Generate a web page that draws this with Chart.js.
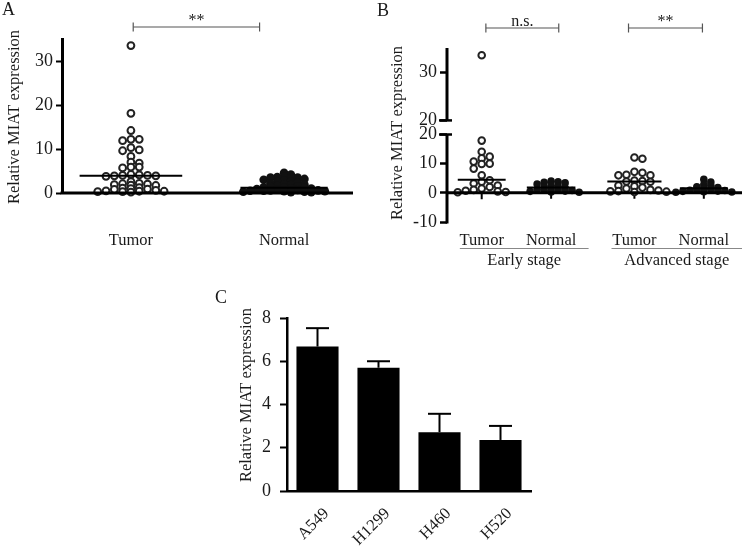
<!DOCTYPE html>
<html><head><meta charset="utf-8">
<script src="https://cdn.jsdelivr.net/npm/chart.js@4.4.1/dist/chart.umd.min.js"></script>
<style>
html,body{margin:0;padding:0;background:#fff;}
body{width:748px;height:546px;position:relative;overflow:hidden;}
canvas{position:absolute;display:block;}
#ca{left:0;top:0;}
#cb{left:370px;top:0;}
#cc{left:200px;top:280px;}
</style></head><body>
<canvas id="ca" width="370" height="278"></canvas>
<canvas id="cb" width="378" height="278"></canvas>
<canvas id="cc" width="340" height="266"></canvas>
<script>
// ---------------- DATA ----------------
// Panel A
const panelACategories = ['Tumor', 'Normal'];
const panelATumor = [33.5, 18.1, 14.2, 12.2, 11.9, 12.2, 10.3, 9.6, 9.8, 8.3, 7.0, 6.8, 5.9, 5.7, 5.9,
  4.1, 4.0, 4.0, 3.9, 4.2, 3.8, 3.9, 2.6, 2.2, 2.0, 1.9, 1.8, 2.1, 1.7, 1.2, 1.0, 0.9, 1.1, 0.8,
  0.6, 0.5, 0.4, 0.3, 0.3, 0.2, 0.4];
const panelANormal = [4.6, 4.2, 3.7, 3.6, 3.5, 3.5, 3.4, 3.2, 3.0, 2.8, 2.6, 2.5, 2.3, 2.2, 2.0, 1.9,
  1.8, 1.6, 1.5, 1.4, 1.3, 1.2, 1.1, 1.0, 1.0, 0.9, 0.8, 0.7, 0.6, 0.6, 0.5, 0.5, 0.4, 0.4, 0.3, 0.3, 0.2, 0.2];
const panelAMedians = [3.9, 1.2];
const panelAYTicks = [0, 10, 20, 30];
const panelASignif = '**';

// Panel B
const panelBCategories = ['Tumor', 'Normal', 'Tumor', 'Normal'];
const panelBStages = ['Early stage', 'Advanced stage'];
const panelBEarlyTumor = [33.5, 17.9, 14.1, 12.4, 11.8, 10.7, 10.0, 9.9, 8.3, 6.0, 4.3, 3.8, 3.2, 2.5, 2.0, 1.5, 1.0, 0.7, 0.5, 0.3, 0.2];
const panelBEarlyNormal = [4.0, 3.8, 3.6, 3.4, 3.0, 2.6, 2.2, 2.0, 1.7, 1.4, 1.2, 1.0, 0.8, 0.6, 0.5, 0.3, 0.2, 0.9];
const panelBAdvTumor = [12.1, 11.7, 7.2, 6.9, 6.2, 6.0, 6.0, 4.2, 4.0, 3.9, 3.8, 2.5, 2.2, 1.8, 1.5, 1.0, 0.8, 0.6, 0.4, 0.3, 0.5];
const panelBAdvNormal = [4.6, 3.7, 2.8, 2.5, 2.1, 1.8, 1.5, 1.2, 1.0, 0.8, 0.6, 0.5, 0.4, 0.3, 0.2, 0.9];
const panelBMedians = [4.5, 1.8, 3.9, 1.6];
const panelBLowerWhiskers = [-2.2, -2.0, -2.0, -2.0];
const panelBLowerTicks = [-10, 0, 10, 20];
const panelBUpperTicks = [20, 30];
const panelBSignif = ['n.s.', '**'];

// Panel C
const panelCCategories = ['A549', 'H1299', 'H460', 'H520'];
const panelCMeans = [6.68, 5.70, 2.72, 2.36];
const panelCErrors = [0.85, 0.30, 0.85, 0.65];
const panelCYTicks = [0, 2, 4, 6, 8];

// ---------------- STYLE / LAYOUT ----------------
const FONT = "'Liberation Serif', 'Times New Roman', serif";
const TXT = '#1a1a1a';
Chart.defaults.font.family = FONT;
Chart.defaults.font.size = 16.5;
Chart.defaults.color = TXT;
const YTITLE = 'Relative MIAT expression';
const TICKSIZE = 18;

// dot-plot layout: points at similar heights are spread side by side in rows
function rowsLayout(values, centerVal, xs, yPix, dx, yTol) {
  const cx = xs.getPixelForValue(centerVal);
  const placed = [];
  const out = new Array(values.length);
  const idx = values.map((v, i) => i).sort((a, b) => values[b] - values[a]);
  const step = dx / 2;
  for (const i of idx) {
    const py = yPix(values[i]);
    let k = 0, px;
    while (true) {
      const off = k === 0 ? 0 : (k % 2 === 1 ? 1 : -1) * Math.ceil(k / 2) * step;
      px = cx + off;
      if (placed.every(p => Math.abs(p.x - px) >= dx - 0.01 || Math.abs(p.y - py) >= yTol)) break;
      k++;
    }
    placed.push({ x: px, y: py });
    out[i] = xs.getValueForPixel(px);
  }
  return out;
}
function vText(ctx, text, x, y, font) {
  ctx.save();
  ctx.translate(x, y);
  ctx.rotate(-Math.PI / 2);
  ctx.font = font; ctx.fillStyle = TXT; ctx.textAlign = 'center'; ctx.textBaseline = 'middle';
  ctx.fillText(text, 0, 0);
  ctx.restore();
}
function hText(ctx, text, x, y, font, align) {
  ctx.save();
  ctx.font = font; ctx.fillStyle = TXT; ctx.textAlign = align || 'center'; ctx.textBaseline = 'alphabetic';
  ctx.fillText(text, x, y);
  ctx.restore();
}
function line(ctx, x1, y1, x2, y2, w, c) {
  ctx.save(); ctx.beginPath(); ctx.moveTo(x1, y1); ctx.lineTo(x2, y2);
  ctx.lineWidth = w; ctx.strokeStyle = c; ctx.stroke(); ctx.restore();
}
function bracket(ctx, x1, x2, y, label) {
  line(ctx, x1, y, x2, y, 1.2, '#555');
  line(ctx, x1, y - 4.5, x1, y + 4.5, 1.2, '#555');
  line(ctx, x2, y - 4.5, x2, y + 4.5, 1.2, '#555');
  hText(ctx, label, (x1 + x2) / 2, y - 2.5, '16px ' + FONT);
}
const F = '16.5px ' + FONT;
const common = {
  responsive: false, animation: false, events: [],
  plugins: { legend: { display: false }, tooltip: { enabled: false } }
};

// ---------------- PANEL A ----------------
const A_CENTERS = [0.9, 2.9];
const A_MED_HALF = [0.67, 0.57];
const A_BRACKET = [0.93, 2.58];
const overlayA = {
  id: 'overlayA',
  afterDraw(chart) {
    const { ctx, chartArea: a, scales: { x, y } } = chart;
    line(ctx, a.left - 1.5, y.getPixelForValue(0), a.right, y.getPixelForValue(0), 3, '#000');
    panelACategories.forEach((c, i) => hText(ctx, c, x.getPixelForValue(A_CENTERS[i]), a.bottom + 52, F));
    vText(ctx, YTITLE, 15, 117, F);
    hText(ctx, 'A', 2, 15, '18px ' + FONT, 'left');
    bracket(ctx, x.getPixelForValue(A_BRACKET[0]), x.getPixelForValue(A_BRACKET[1]), 27, panelASignif);
  }
};
const chartA = new Chart(document.getElementById('ca'), {
  type: 'scatter',
  data: { datasets: [
    { data: panelATumor.map(v => ({ x: A_CENTERS[0], y: v })), pointRadius: 3.4, pointBorderWidth: 2,
      pointBackgroundColor: '#fff', pointBorderColor: '#222', order: 2, clip: false },
    { data: panelANormal.map(v => ({ x: A_CENTERS[1], y: v })), pointRadius: 4.3, pointBorderWidth: 0,
      pointBackgroundColor: '#111', order: 2, clip: false },
    ...panelAMedians.map((m, i) => ({ data: [{ x: A_CENTERS[i] - A_MED_HALF[i], y: m }, { x: A_CENTERS[i] + A_MED_HALF[i], y: m }],
      showLine: true, borderColor: '#000', borderWidth: 2, pointRadius: 0, order: 0, clip: false }))
  ] },
  options: Object.assign({}, common, {
    layout: { padding: { top: 39, right: 17, bottom: 85, left: 0 } },
    scales: {
      x: { type: 'linear', display: false, min: 0, max: 3.8 },
      y: { min: 0, max: 35,
        afterFit: s => { s.width = 62; },
        afterBuildTicks: s => { s.ticks = panelAYTicks.map(v => ({ value: v })); },
        border: { display: true, width: 3, color: '#000' },
        grid: { display: true, drawOnChartArea: false, drawTicks: true, tickLength: 6, tickWidth: 2, tickColor: '#000' },
        ticks: { padding: 3, color: TXT, font: { size: TICKSIZE } } }
    }
  }),
  plugins: [overlayA]
});
(function () {
  const xs = chartA.scales.x, ys = chartA.scales.y;
  const yp = v => ys.getPixelForValue(v);
  const t = rowsLayout(panelATumor, A_CENTERS[0], xs, yp, 8.3, 3.5);
  const n = rowsLayout(panelANormal, A_CENTERS[1], xs, yp, 6.8, 3.5);
  chartA.data.datasets[0].data = panelATumor.map((v, i) => ({ x: t[i], y: v }));
  chartA.data.datasets[1].data = panelANormal.map((v, i) => ({ x: n[i], y: v }));
  chartA.update('none');
})();

// ---------------- PANEL B ----------------
const B_BREAK = 20, B_GAP = 4.83, B_RATIO = 1.655, B_TOP = 35;
const toPlotB = v => v <= B_BREAK ? v : B_BREAK + B_GAP + (v - B_BREAK) * B_RATIO;
const upperPlotB = v => B_BREAK + B_GAP + (v - B_BREAK) * B_RATIO;
const B_TICK_POS = [...panelBLowerTicks, ...panelBUpperTicks.map(upperPlotB)];
const B_TICK_LABELS = [...panelBLowerTicks, ...panelBUpperTicks].map(String);
const B_CENTERS = [1.0, 3.0, 5.4, 7.4];
const B_MED_HALF = [0.69, 0.7, 0.78, 0.69];
const B_BRACKETS = [[1.12, 3.22], [5.23, 7.36]];
const B_STAGE_LINES = [[0.37, 4.08], [4.74, 8.5]];
const bGroups = [panelBEarlyTumor, panelBEarlyNormal, panelBAdvTumor, panelBAdvNormal];
const overlayB = {
  id: 'overlayB',
  afterDraw(chart) {
    const { ctx, chartArea: a, scales: { x, y } } = chart;
    const ax = a.left;
    line(ctx, ax, y.getPixelForValue(-10) + 1.5, ax, y.getPixelForValue(20), 3, '#000');
    line(ctx, ax, y.getPixelForValue(upperPlotB(20)), ax, a.top, 3, '#000');
    line(ctx, ax - 8, y.getPixelForValue(20), ax + 5, y.getPixelForValue(20), 2.5, '#000');
    line(ctx, ax - 8, y.getPixelForValue(upperPlotB(20)), ax + 5, y.getPixelForValue(upperPlotB(20)), 2.5, '#000');
    const y0 = y.getPixelForValue(0);
    line(ctx, ax, y0, a.right, y0, 3, '#000');
    panelBCategories.forEach((c, i) => hText(ctx, c, x.getPixelForValue(B_CENTERS[i]), 245, F));
    panelBStages.forEach((s, i) => {
      const x1 = x.getPixelForValue(B_STAGE_LINES[i][0]), x2 = x.getPixelForValue(B_STAGE_LINES[i][1]);
      line(ctx, x1, 248.5, x2, 248.5, 1, '#888');
      hText(ctx, s, (x1 + x2) / 2, 265, F);
    });
    vText(ctx, YTITLE, 28, 133, F);
    hText(ctx, 'B', 7, 16, '18px ' + FONT, 'left');
    B_BRACKETS.forEach((b, i) => bracket(ctx, x.getPixelForValue(b[0]), x.getPixelForValue(b[1]), 28, panelBSignif[i]));
  }
};
const bDatasets = [];
bGroups.forEach((vals, i) => {
  const open = i % 2 === 0;
  bDatasets.push({ data: vals.map(v => ({ x: B_CENTERS[i], y: toPlotB(v) })), pointRadius: open ? 3.3 : 3.8,
    pointBorderWidth: open ? 2 : 0, pointBackgroundColor: open ? '#fff' : '#111', pointBorderColor: '#222', order: 2, clip: false });
});
panelBMedians.forEach((m, i) => {
  bDatasets.push({ data: [{ x: B_CENTERS[i] - B_MED_HALF[i], y: m }, { x: B_CENTERS[i] + B_MED_HALF[i], y: m }],
    showLine: true, borderColor: '#000', borderWidth: 2, pointRadius: 0, order: 0, clip: false });
  bDatasets.push({ data: [{ x: B_CENTERS[i], y: m }, { x: B_CENTERS[i], y: panelBLowerWhiskers[i] }],
    showLine: true, borderColor: '#000', borderWidth: 2, pointRadius: 0, order: 3, clip: false });
});
const chartB = new Chart(document.getElementById('cb'), {
  type: 'scatter',
  data: { datasets: bDatasets },
  options: Object.assign({}, common, {
    layout: { padding: { top: 48, right: 5, bottom: 56, left: 0 } },
    scales: {
      x: { type: 'linear', display: false, min: 0, max: 8.5 },
      y: { min: -10, max: toPlotB(B_TOP),
        afterFit: s => { s.width = 77; },
        afterBuildTicks: s => { s.ticks = B_TICK_POS.map(v => ({ value: v })); },
        border: { display: false },
        grid: { display: true, drawOnChartArea: false, drawTicks: true, tickLength: 7, tickWidth: 2.5, tickColor: '#000', color: 'rgba(0,0,0,0)' },
        ticks: { padding: 3, color: TXT, font: { size: TICKSIZE }, callback: (v, i) => B_TICK_LABELS[i] } }
    }
  }),
  plugins: [overlayB]
});
(function () {
  const xs = chartB.scales.x, ys = chartB.scales.y;
  const yp = v => ys.getPixelForValue(toPlotB(v));
  bGroups.forEach((vals, i) => {
    const open = i % 2 === 0;
    const xsw = rowsLayout(vals, B_CENTERS[i], xs, yp, open ? 8 : 7, open ? 5.5 : 3);
    chartB.data.datasets[i].data = vals.map((v, j) => ({ x: xsw[j], y: toPlotB(v) }));
  });
  chartB.update('none');
})();

// ---------------- PANEL C ----------------
const overlayC = {
  id: 'overlayC',
  afterDatasetsDraw(chart) {
    const { ctx, scales: { y } } = chart;
    const meta = chart.getDatasetMeta(0);
    meta.data.forEach((bar, i) => {
      const top = y.getPixelForValue(panelCMeans[i]);
      const et = y.getPixelForValue(panelCMeans[i] + panelCErrors[i]);
      line(ctx, bar.x, top, bar.x, et, 2, '#000');
      line(ctx, bar.x - 11.5, et, bar.x + 11.5, et, 2, '#000');
    });
  },
  afterDraw(chart) {
    const { ctx } = chart;
    vText(ctx, YTITLE, 47, 115, F);
    hText(ctx, 'C', 15, 23, '18px ' + FONT, 'left');
  }
};
const chartC = new Chart(document.getElementById('cc'), {
  type: 'bar',
  data: { labels: panelCCategories, datasets: [{ data: panelCMeans, backgroundColor: '#000', borderWidth: 0,
    barPercentage: 0.69, categoryPercentage: 1 }] },
  options: Object.assign({}, common, {
    layout: { padding: { top: 38, right: 9, bottom: 0, left: 0 } },
    scales: {
      x: { afterFit: s => { s.height = 55; },
        border: { display: true, width: 2.5, color: '#000' },
        grid: { display: false, drawTicks: false },
        ticks: { padding: 13, labelOffset: 9, minRotation: 45, maxRotation: 45, color: TXT, font: { size: 16.5 } } },
      y: { min: 0, max: 8,
        afterFit: s => { s.width = 87; },
        afterBuildTicks: s => { s.ticks = panelCYTicks.map(v => ({ value: v })); },
        border: { display: true, width: 2.5, color: '#000' },
        grid: { display: true, drawOnChartArea: false, drawTicks: true, tickLength: 7, tickWidth: 2, tickColor: '#000' },
        ticks: { padding: 9, color: TXT, font: { size: TICKSIZE } } }
    }
  }),
  plugins: [overlayC]
});
</script>
</body></html>
